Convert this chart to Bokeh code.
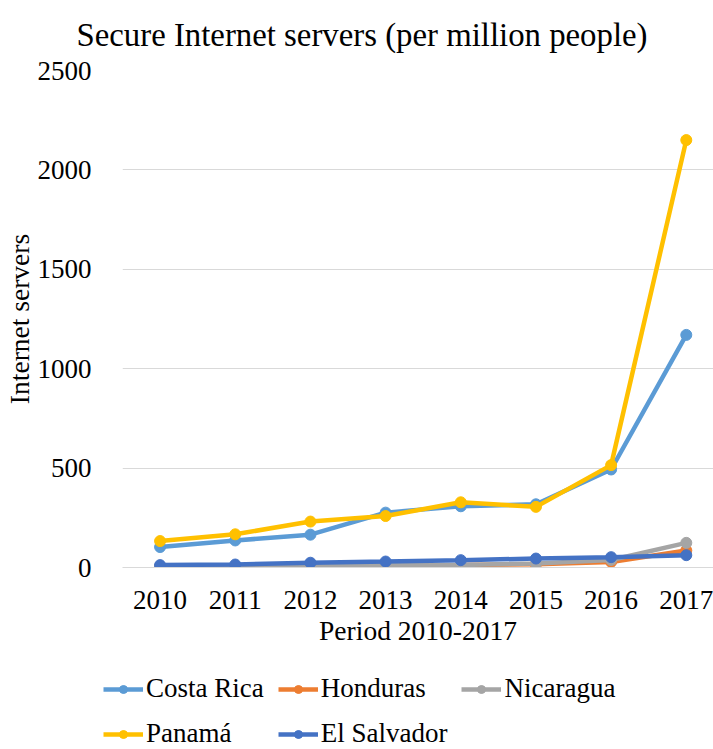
from bokeh.plotting import figure
from bokeh.layouts import column, row
from bokeh.models import Range1d, FixedTicker, Legend, LegendItem, Title
from bokeh.embed import file_html
from bokeh.resources import INLINE

years = [2010, 2011, 2012, 2013, 2014, 2015, 2016, 2017]
costa_rica = [103, 136, 165, 276, 308, 318, 493, 1170]
honduras = [5, 6, 8, 10, 12, 16, 28, 86]
nicaragua = [6, 7, 10, 12, 13, 20, 38, 124]
panama = [133, 167, 231, 259, 328, 305, 515, 2150]
el_salvador = [12, 15, 24, 30, 37, 45, 52, 62]
y_ticks = [0, 500, 1000, 1500, 2000, 2500]

series = [
    ("Costa Rica", costa_rica, "#5B9BD5"),
    ("Honduras", honduras, "#ED7D31"),
    ("Nicaragua", nicaragua, "#A5A5A5"),
    ("Panamá", panama, "#FFC000"),
    ("El Salvador", el_salvador, "#4472C4"),
]
# legend fills column by column: order so rows read CR, Honduras, Nicaragua / Panamá, El Salvador
legend_order = ["Costa Rica", "Panamá", "Honduras", "El Salvador", "Nicaragua"]

FONT = "Liberation Serif"

p = figure(width=713, height=650, output_backend="svg", toolbar_location=None,
           x_range=Range1d(2009.5, 2017.362), y_range=Range1d(0, 2500),
           min_border_left=120, min_border_right=0, min_border_top=70,
           min_border_bottom=83, title=None)
p.outline_line_color = None
p.background_fill_color = "white"
p.border_fill_color = "white"

p.add_layout(Title(text="Secure Internet servers (per million people)", align="left",
                   offset=-46, standoff=32, vertical_align="top",
                   text_font=FONT, text_font_size="32.8px",
                   text_font_style="normal", text_color="#000000"), "above")

for name, vals, color in series:
    p.line(years, vals, line_color=color, line_width=4.5)
    p.scatter(years, vals, size=11, fill_color=color, line_color=color)

p.xgrid.visible = False
p.ygrid.ticker = FixedTicker(ticks=y_ticks)
p.ygrid.grid_line_color = "#D9D9D9"
p.ygrid.grid_line_width = 1

p.xaxis.ticker = FixedTicker(ticks=years)
p.yaxis.ticker = FixedTicker(ticks=y_ticks)
for ax in (p.xaxis[0], p.yaxis[0]):
    ax.major_tick_line_color = None
    ax.minor_tick_line_color = None
    ax.major_label_text_font = FONT
    ax.major_label_text_font_size = "27px"
    ax.major_label_text_color = "#000000"
    ax.axis_label_text_font = FONT
    ax.axis_label_text_font_size = "27.5px"
    ax.axis_label_text_font_style = "normal"
    ax.axis_label_text_color = "#000000"

p.xaxis.axis_line_color = "#D9D9D9"
p.yaxis.axis_line_color = None
p.xaxis.axis_label = "Period 2010-2017"
p.yaxis.axis_label = "Internet servers"
p.xaxis.major_label_standoff = 17
p.xaxis.axis_label_standoff = 3
p.yaxis.major_label_standoff = 25
p.yaxis.axis_label_standoff = 0

# Legend strip below the chart (series drawn outside its visible range)
q = figure(width=713, height=99, output_backend="svg", toolbar_location=None,
           x_range=Range1d(0, 1), y_range=Range1d(0, 1), min_border=0,
           x_axis_location=None, y_axis_location=None)
q.outline_line_color = None
q.grid.visible = False
q.background_fill_color = "white"
q.border_fill_color = "white"

item_map = {}
for name, vals, color in series:
    r1 = q.line(years, vals, line_color=color, line_width=4.5)
    r2 = q.scatter(years, vals, size=11, fill_color=color, line_color=color)
    item_map[name] = LegendItem(label=name, renderers=[r1, r2])

legend = Legend(items=[item_map[n] for n in legend_order], ncols=3, location=(103, 0),
                glyph_width=40, glyph_height=20, label_standoff=3, label_height=28,
                label_width=20, spacing=14, padding=0, margin=0,
                border_line_color=None, background_fill_alpha=0,
                label_text_font=FONT, label_text_font_size="27px",
                label_text_color="#000000")
q.add_layout(legend, "center")

layout = column(p, row(q, spacing=0), spacing=0)
open("out.html", "w").write(file_html(layout, INLINE))
